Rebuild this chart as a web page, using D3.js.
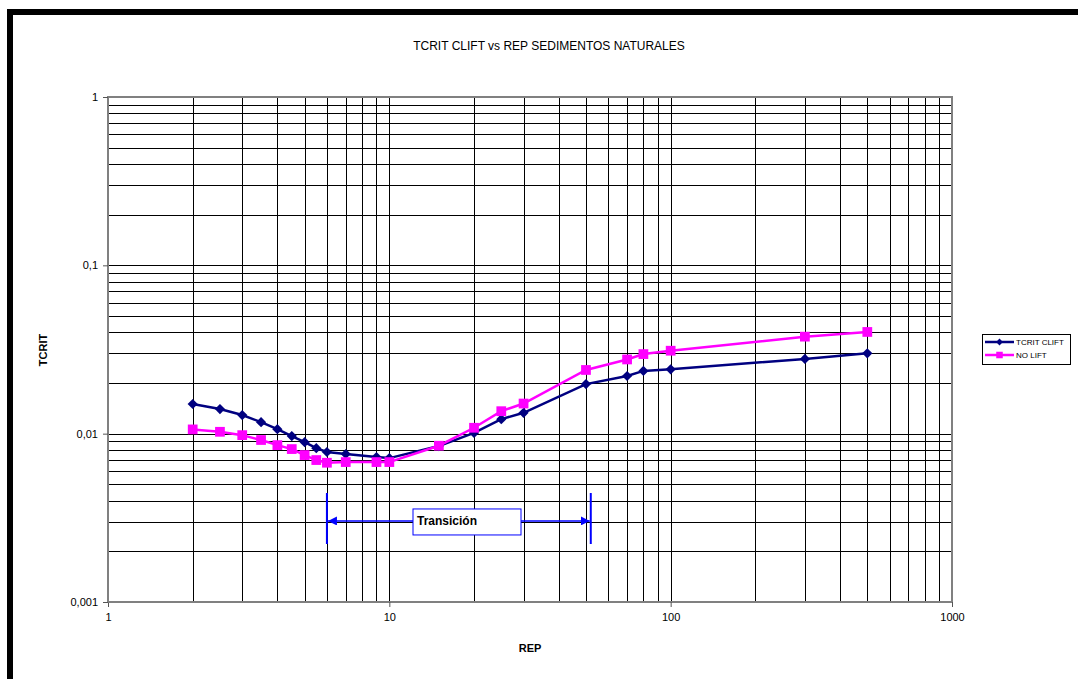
<!DOCTYPE html>
<html>
<head>
<meta charset="utf-8">
<script src="https://cdn.jsdelivr.net/npm/d3@7"></script>
<style>
  html, body { margin: 0; padding: 0; background: #fff; overflow: hidden; }
  svg { display: block; font-family: "Liberation Sans", Arial, sans-serif; }
</style>
</head>
<body>
<svg id="chart" width="1078" height="679"></svg>
<script>
// Reynolds particle numbers (REP) sampled
const rep = [2, 2.5, 3, 3.5, 4, 4.5, 5, 5.5, 6, 7, 9, 10, 15, 20, 25, 30, 50, 70, 80, 100, 300, 500];
// Critical shear stress with lift (TCRIT CLIFT)
const tcritClift = [0.0150, 0.0140, 0.0129, 0.0117, 0.01064, 0.00968, 0.0089, 0.0082, 0.00778, 0.00757, 0.00726, 0.00716,
                    0.00844, 0.0101, 0.0122, 0.0133, 0.0197, 0.0220, 0.0236, 0.0241, 0.0278, 0.0300];
// Critical shear stress without lift (NO LIFT)
const noLift = [0.0106, 0.01026, 0.0098, 0.00917, 0.00855, 0.0081, 0.00746, 0.00697, 0.00672, 0.00678, 0.00678, 0.00678,
                0.00848, 0.01084, 0.0136, 0.0151, 0.0239, 0.0276, 0.0297, 0.0311, 0.0377, 0.0402];
const seriesNames = ["TCRIT CLIFT", "NO LIFT"];
const xTickLabels = ["1", "10", "100", "1000"];
const yTickLabels = ["0,001", "0,01", "0,1", "1"];
// Transition range in REP and its marker height
const transitionRange = [6, 52];
const transitionLevel = 0.00303;
const transitionSpan = [0.00221, 0.00444];

const svg = d3.select("#chart");

// outer frame
svg.append("rect").attr("x", 10).attr("y", 12).attr("width", 1100).attr("height", 700)
  .attr("fill", "none").attr("stroke", "#000").attr("stroke-width", 6);

const pL = 108, pR = 952, pT = 97, pB = 602;
const x = d3.scaleLog().domain([1, 1000]).range([pL, pR]);
const y = d3.scaleLog().domain([0.001, 1]).range([pB, pT]);

// grid: every minor decade value
const gridVals = (lo, hi) => {
  const out = [];
  for (let e = lo; e < hi; e++) for (let m = 1; m <= 9; m++) out.push(m * Math.pow(10, e));
  out.push(Math.pow(10, hi));
  return out;
};
const xg = gridVals(0, 3), yg = gridVals(-3, 0);
const g = svg.append("g").attr("shape-rendering", "crispEdges");
g.selectAll(".vg").data(xg).enter().append("line")
  .attr("x1", d => Math.round(x(d)) + 0.5).attr("x2", d => Math.round(x(d)) + 0.5)
  .attr("y1", pT).attr("y2", pB).attr("stroke", "#000").attr("stroke-width", 1);
g.selectAll(".hg").data(yg).enter().append("line")
  .attr("y1", d => Math.round(y(d)) + 0.5).attr("y2", d => Math.round(y(d)) + 0.5)
  .attr("x1", pL).attr("x2", pR).attr("stroke", "#000").attr("stroke-width", 1);
// plot border
g.append("rect").attr("x", pL).attr("y", pT).attr("width", pR - pL).attr("height", pB - pT)
  .attr("fill", "none").attr("stroke", "#808080").attr("stroke-width", 1.5);

// axes
const xAxis = d3.axisBottom(x).tickValues([1, 10, 100, 1000]).tickFormat((d, i) => xTickLabels[i]).tickSizeOuter(0).tickSize(5).tickPadding(6);
const yAxis = d3.axisLeft(y).tickValues([0.001, 0.01, 0.1, 1]).tickFormat((d, i) => yTickLabels[i]).tickSizeOuter(0).tickSize(5).tickPadding(5);
const xa = svg.append("g").attr("transform", `translate(0,${pB})`).call(xAxis);
const ya = svg.append("g").attr("transform", `translate(${pL},0)`).call(yAxis);
[xa, ya].forEach(a => {
  a.select(".domain").attr("stroke", "#808080");
  a.selectAll(".tick line").attr("stroke", "#555");
  a.selectAll("text").attr("font-size", 11).attr("fill", "#000").attr("font-family", "Liberation Sans, Arial, sans-serif");
});

// title and axis titles
svg.append("text").attr("x", 549).attr("y", 50).attr("text-anchor", "middle")
  .attr("font-size", 12).text("TCRIT CLIFT vs REP SEDIMENTOS NATURALES");
svg.append("text").attr("x", 530).attr("y", 652).attr("text-anchor", "middle")
  .attr("font-size", 11).attr("font-weight", "bold").text("REP");
svg.append("text").attr("transform", "translate(47,350) rotate(-90)").attr("text-anchor", "middle")
  .attr("font-size", 11).attr("font-weight", "bold").text("TCRIT");

// series lines and markers (diamond = square turned 45 degrees)
const line = d3.line().x(d => x(d[0])).y(d => y(d[1]));
const series = [
  { name: seriesNames[0], vals: tcritClift, color: "#000080", shape: d3.symbolSquare, size: 52, rot: 45 },
  { name: seriesNames[1], vals: noLift, color: "#FF00FF", shape: d3.symbolSquare, size: 95, rot: 0 }
];
series.forEach(s => {
  const pts = rep.map((r, i) => [r, s.vals[i]]);
  const sg = svg.append("g").attr("class", "series");
  sg.append("path").datum(pts).attr("d", line).attr("fill", "none")
    .attr("stroke", s.color).attr("stroke-width", 2.5);
  sg.selectAll(".pt").data(pts).enter().append("path")
    .attr("transform", d => `translate(${x(d[0])},${y(d[1])}) rotate(${s.rot})`)
    .attr("d", d3.symbol().type(s.shape).size(s.size)).attr("fill", s.color);
});

// transition annotation
const tc = "#0000FF";
const ty = y(transitionLevel);
transitionRange.forEach(v => {
  svg.append("line").attr("x1", x(v)).attr("x2", x(v))
    .attr("y1", y(transitionSpan[1])).attr("y2", y(transitionSpan[0]))
    .attr("stroke", tc).attr("stroke-width", 2);
});
const defs = svg.append("defs");
defs.append("marker").attr("id", "arr").attr("viewBox", "0 0 10 10").attr("refX", 10).attr("refY", 5)
  .attr("markerWidth", 9).attr("markerHeight", 9).attr("markerUnits", "userSpaceOnUse").attr("orient", "auto")
  .append("path").attr("d", "M0,0L10,5L0,10Z").attr("fill", tc);
const boxL = 413, boxR = 521;
svg.append("line").attr("x1", boxL).attr("x2", x(transitionRange[0]) + 1).attr("y1", ty).attr("y2", ty)
  .attr("stroke", tc).attr("stroke-width", 1.5).attr("marker-end", "url(#arr)");
svg.append("line").attr("x1", boxR).attr("x2", x(transitionRange[1]) - 1).attr("y1", ty).attr("y2", ty)
  .attr("stroke", tc).attr("stroke-width", 1.5).attr("marker-end", "url(#arr)");
svg.append("rect").attr("x", boxL).attr("y", ty - 12).attr("width", boxR - boxL).attr("height", 26)
  .attr("fill", "#fff").attr("stroke", tc).attr("stroke-width", 1);
svg.append("text").attr("x", boxL + 4).attr("y", ty + 4).attr("font-size", 12).attr("font-weight", "bold")
  .attr("fill", "#000").text("Transición");

// legend
const lg = svg.append("g");
lg.append("rect").attr("x", 982.5).attr("y", 334.5).attr("width", 88).attr("height", 30)
  .attr("fill", "#fff").attr("stroke", "#000").attr("stroke-width", 1);
series.forEach((s, i) => {
  const ly = 342 + i * 13;
  lg.append("line").attr("x1", 985).attr("x2", 1014).attr("y1", ly).attr("y2", ly)
    .attr("stroke", s.color).attr("stroke-width", 2.5);
  lg.append("path").attr("transform", `translate(999.5,${ly}) rotate(${s.rot})`)
    .attr("d", d3.symbol().type(s.shape).size(s.size * 0.45)).attr("fill", s.color);
  lg.append("text").attr("x", 1016).attr("y", ly + 3).attr("font-size", 8).text(s.name);
});
</script>
</body>
</html>
